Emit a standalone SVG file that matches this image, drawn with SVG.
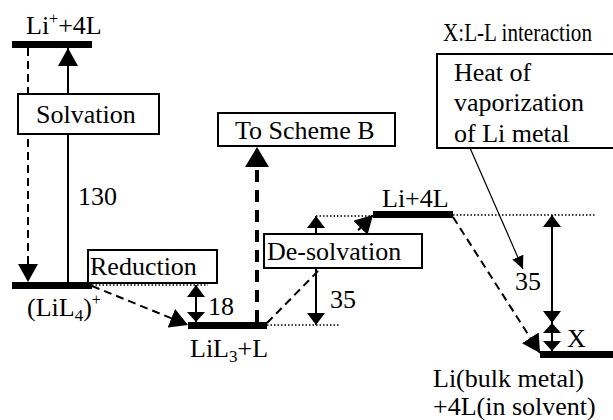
<svg xmlns="http://www.w3.org/2000/svg" width="613" height="420" viewBox="0 0 613 420">
<style>
text{font-family:'Liberation Serif','Times New Roman',serif;font-size:26px;fill:#000}
.bar{fill:#000}
.box{fill:#fff;stroke:#000;stroke-width:2}
.ln{stroke:#000;stroke-width:2;fill:none}
.dash{stroke:#000;stroke-width:2;fill:none;stroke-dasharray:8,5}
.thick{stroke:#000;stroke-width:4;fill:none;stroke-dasharray:12,8}
.dot{stroke:#000;stroke-width:1.5;fill:none;stroke-dasharray:1.5,2}
.thin{stroke:#000;stroke-width:1.2;fill:none}
</style>
<defs>
<marker id="ah" markerUnits="userSpaceOnUse" markerWidth="18" markerHeight="20" viewBox="0 0 18 20" refX="18" refY="10" orient="auto-start-reverse"><path d="M0,0L18,10L0,20z"/></marker>
<marker id="ahs" markerUnits="userSpaceOnUse" markerWidth="12" markerHeight="18" viewBox="0 0 12 18" refX="12" refY="9" orient="auto-start-reverse"><path d="M0,0L12,9L0,18z"/></marker>
<marker id="ahx" markerUnits="userSpaceOnUse" markerWidth="10" markerHeight="18" viewBox="0 0 10 18" refX="10" refY="9" orient="auto-start-reverse"><path d="M0,0L10,9L0,18z"/></marker>
<marker id="aht" markerUnits="userSpaceOnUse" markerWidth="13" markerHeight="12" viewBox="0 0 13 12" refX="13" refY="6" orient="auto"><path d="M0,0L13,6L0,12z"/></marker>
<marker id="ahb" markerUnits="userSpaceOnUse" markerWidth="20" markerHeight="24" viewBox="0 0 20 24" refX="20" refY="12" orient="auto"><path d="M0,0L20,12L0,24z"/></marker>
</defs>
<g id="connectors">
<line class="dash" x1="28" y1="48" x2="28" y2="282" marker-end="url(#ah)"/>
<line class="ln" x1="68" y1="282" x2="68" y2="48" marker-end="url(#ah)"/>
<line class="dot" x1="92" y1="285" x2="208" y2="285"/>
<line class="dash" x1="92" y1="286" x2="188" y2="325" marker-end="url(#ah)"/>
<line class="ln" x1="196" y1="285" x2="196" y2="322" marker-start="url(#ahs)" marker-end="url(#ahx)"/>
<line class="dot" x1="267" y1="325" x2="340" y2="325"/>
<line class="thick" x1="257" y1="322" x2="257" y2="147" marker-end="url(#ahb)"/>
<line class="dash" x1="267" y1="323" x2="373" y2="215" marker-end="url(#ah)"/>
<line class="ln" x1="316" y1="216" x2="316" y2="325" marker-start="url(#ahs)" marker-end="url(#ahs)"/>
<line class="dot" x1="316" y1="216" x2="373" y2="216"/>
<line class="dot" x1="453" y1="215" x2="595" y2="215"/>
<line class="thin" x1="470" y1="148" x2="523" y2="269" marker-end="url(#aht)"/>
<line class="dash" x1="453" y1="217" x2="540" y2="353" marker-end="url(#ah)"/>
<line class="ln" x1="552" y1="215" x2="552" y2="323" marker-start="url(#ahs)" marker-end="url(#ahs)"/>
<line class="ln" x1="552" y1="323" x2="552" y2="351" marker-start="url(#ahx)" marker-end="url(#ahx)"/>
</g>
<g id="level-li-plus">
<rect class="bar" x="12" y="41" width="80" height="7"/>
<text x="26" y="34">Li<tspan font-size="16" dy="-10">+</tspan><tspan dy="10">+4L</tspan></text>
</g>
<g id="solvation">
<rect class="box" x="18" y="94" width="141" height="40"/>
<text x="36" y="123">Solvation</text>
</g>
<g id="label-130"><text x="78" y="205">130</text></g>
<g id="level-lil4">
<rect class="bar" x="12" y="282" width="80" height="7"/>
<text x="27" y="316">(LiL<tspan font-size="17" dy="5">4</tspan><tspan dy="-5">)</tspan><tspan font-size="16" dy="-11">+</tspan></text>
</g>
<g id="reduction">
<rect class="box" x="88" y="250" width="129" height="33"/>
<text x="90" y="275">Reduction</text>
</g>
<g id="level-lil3">
<rect class="bar" x="188" y="322" width="79" height="7"/>
<text x="190" y="357">LiL<tspan font-size="17" dy="5">3</tspan><tspan dy="-5">+L</tspan></text>
</g>
<g id="label-18"><text x="208" y="315">18</text></g>
<g id="scheme-b">
<rect class="box" x="218" y="113" width="177" height="33"/>
<text x="235" y="139">To Scheme B</text>
</g>
<g id="desolvation">
<rect class="box" x="264" y="234" width="158" height="34"/>
<text x="267" y="260">De-solvation</text>
</g>
<g id="label-35a"><text x="330" y="308">35</text></g>
<g id="level-li4l">
<rect class="bar" x="373" y="211" width="80" height="7"/>
<text x="382" y="207">Li+4L</text>
</g>
<g id="legend"><text x="443" y="41" font-size="15.5" textLength="149" lengthAdjust="spacingAndGlyphs">X:L-L interaction</text></g>
<g id="heat-box">
<rect class="box" x="437" y="54" width="178" height="94"/>
<text x="454" y="81">Heat of</text>
<text x="454" y="111">vaporization</text>
<text x="454" y="142">of Li metal</text>
</g>
<g id="label-35b"><text x="515" y="290">35</text></g>
<g id="label-x"><text x="567" y="347">X</text></g>
<g id="level-bulk">
<rect class="bar" x="540" y="351" width="75" height="7"/>
<text x="433" y="387">Li(bulk metal)</text>
<text x="433" y="415">+4L(in solvent)</text>
</g>
</svg>
